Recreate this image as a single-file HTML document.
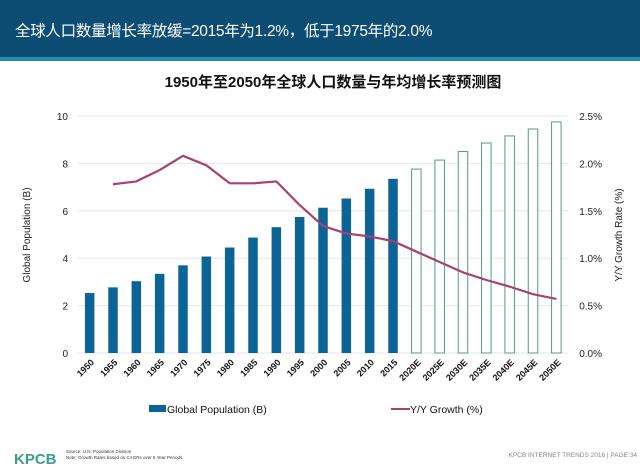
<!DOCTYPE html>
<html><head><meta charset="utf-8"><style>
body{margin:0;width:640px;height:475px;overflow:hidden;background:#fff;font-family:"Liberation Sans","Noto Sans CJK SC",sans-serif}
#hdr{position:absolute;left:0;top:0;width:640px;height:57px;background:#0d4d73}
#stripe{position:absolute;left:0;top:57px;width:640px;height:4px;background:#1f8fb0}
#ttl{position:absolute;left:15px;top:19px;color:#fff;font-size:15.5px;letter-spacing:-0.3px}
svg{position:absolute;left:0;top:0}
</style></head><body>
<div id="hdr"></div>
<div id="stripe"></div>
<div id="ttl">全球人口数量增长率放缓=2015年为1.2%，低于1975年的2.0%</div>
<svg id="c" width="640" height="475"></svg>
<script>
const categories=["1950","1955","1960","1965","1970","1975","1980","1985","1990","1995","2000","2005","2010","2015","2020E","2025E","2030E","2035E","2040E","2045E","2050E"];
const population=[2.53,2.77,3.03,3.34,3.70,4.07,4.45,4.87,5.31,5.74,6.13,6.52,6.93,7.35,7.76,8.14,8.50,8.86,9.16,9.45,9.75];
const growth=[null,1.78,1.81,1.93,2.08,1.98,1.79,1.79,1.81,1.56,1.34,1.26,1.23,1.18,1.07,0.96,0.85,0.77,0.70,0.62,0.57];
const leftTicks=[0,2,4,6,8,10];
const rightTicks=["0.0%","0.5%","1.0%","1.5%","2.0%","2.5%"];
const NS="http://www.w3.org/2000/svg";
const svg=document.getElementById('c');
const X0=78,X1=568,Y0=353,Y1=116;
const band=(X1-X0)/categories.length;
const xc=i=>X0+band*(i+0.5);
const yL=v=>Y0-(v/10)*(Y0-Y1);
const yR=v=>Y0-(v/2.5)*(Y0-Y1);
function el(t,a,txt){const e=document.createElementNS(NS,t);for(const k in a)e.setAttribute(k,a[k]);if(txt!=null)e.textContent=txt;svg.appendChild(e);return e;}
let e=el('text',{x:333,y:87,'text-anchor':'middle','font-size':15,'font-weight':'bold',fill:'#111'},'1950年至2050年全球人口数量与年均增长率预测图');

leftTicks.forEach((t,i)=>{
  const y=yL(t);
  const g=el('line',{x1:X0,x2:X1,y1:y,y2:y,stroke:'#e6e6e6','stroke-width':1});
  
  const a=el('text',{x:68,y:y+4,'text-anchor':'end','font-size':10,fill:'#222'},t);
  
  const b=el('text',{x:602,y:y+4,'text-anchor':'end','font-size':10,fill:'#222'},rightTicks[i]);
  
});
e=el('text',{transform:'translate(30,235) rotate(-90)','text-anchor':'middle','font-size':10,fill:'#222'},'Global Population (B)');

e=el('text',{transform:'translate(622,235) rotate(-90)','text-anchor':'middle','font-size':10,fill:'#222'},'Y/Y Growth Rate (%)');

const bw=9.5;
population.forEach((v,i)=>{
  const fut=categories[i].endsWith('E');
  const r=el('rect',{x:xc(i)-bw/2,y:yL(v),width:bw,height:Y0-yL(v),fill:fut?'#fff':'#0c6396',stroke:fut?'#4e9c86':'none','stroke-width':fut?1:0});
  
  const t=el('text',{transform:`translate(${xc(i)+5},${Y0+10}) rotate(-45)`,'text-anchor':'end','font-size':9,'font-weight':'bold',fill:'#111'},categories[i]);
  
});
let d='';
growth.forEach((v,i)=>{if(v==null)return;d+=(d?'L':'M')+xc(i)+','+yR(v);});
e=el('path',{d:d,fill:'none',stroke:'#a8416f','stroke-width':2.2,'stroke-linejoin':'round'});

e=el('rect',{x:149,y:405,width:17,height:7,fill:'#0c6396'});

e=el('text',{x:167,y:413,'font-size':10.5,fill:'#111'},'Global Population (B)');

e=el('line',{x1:391,x2:410,y1:409,y2:409,stroke:'#a8416f','stroke-width':2});

e=el('text',{x:410,y:413,'font-size':10.5,fill:'#111'},'Y/Y Growth (%)');

e=el('text',{x:14,y:464,'font-size':15,'font-weight':'bold',fill:'#3aa08a'},'KPCB');

e=el('text',{x:66,y:453,'font-size':4.5,fill:'#333'},'Source: U.N. Population Division');

e=el('text',{x:66,y:459,'font-size':4.5,fill:'#333'},'Note: Growth Rates based on CAGRs over 5 Year Periods.');

e=el('text',{x:637,y:457,'text-anchor':'end','font-size':6.5,fill:'#888'},'KPCB INTERNET TRENDS 2016  |  PAGE 34');

</script>
</body></html>
